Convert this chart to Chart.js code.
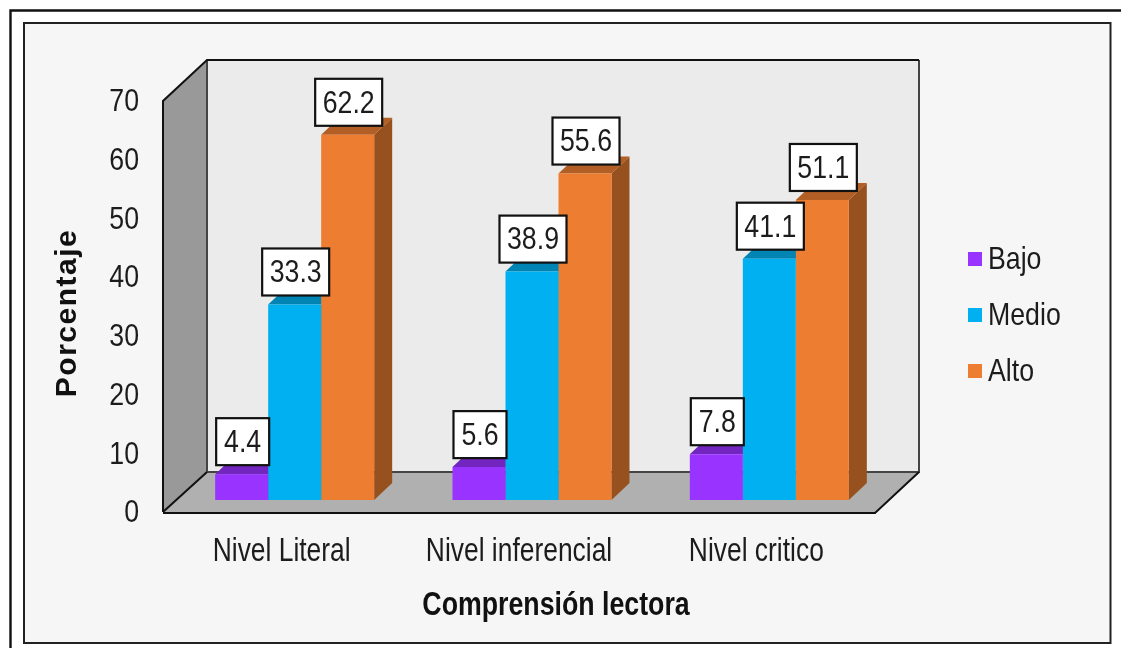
<!DOCTYPE html>
<html><head><meta charset="utf-8">
<style>html,body{margin:0;padding:0;background:#fff}#wrap{position:absolute;left:0;top:0;width:1121px;height:648px}canvas{filter:blur(0.45px)}</style>
<script src="https://cdn.jsdelivr.net/npm/chart.js@4/dist/chart.umd.min.js"></script>
</head><body><div id="wrap"><canvas id="c" width="1121" height="648"></canvas></div>
<script>
const categories = ['Nivel Literal', 'Nivel inferencial', 'Nivel critico'];
const bajo = [4.4, 5.6, 7.8];
const medio = [33.3, 38.9, 41.1];
const alto = [62.2, 55.6, 51.1];
const seriesNames = ['Bajo', 'Medio', 'Alto'];
const frontColors = ['#9933ff', '#00b0f0', '#ed7d31'];
const topColors = ['#7326bf', '#0084b4', '#b25e25'];
const sideColors = ['#5c1f99', '#006f97', '#97511f'];
const yTicks = [0, 10, 20, 30, 40, 50, 60, 70];
const xTitle = 'Comprensión lectora';
const yTitle = 'Porcentaje';

const sans = '"Liberation Sans", Arial, sans-serif';
const ink = '#1c1c1c';
const wallDX = 44, wallDY = 40;      // depth of the back wall
const shiftX = 13, shiftY = -12;     // bars stand inside the floor
const barDX = 18, barDY = 17;        // depth of each bar
const digitSqueeze = 0.835;

// The reference text is a horizontally condensed Arial: draw every string squeezed.
function squeezeFor(font) {
  if (font.includes('bold')) return font.includes('33px') ? 0.81 : 1;
  if (font.includes('33px')) return 0.80;
  return digitSqueeze;
}
const canvas = document.getElementById('c');
const rawCtx = canvas.getContext('2d');
const rawFill = rawCtx.fillText.bind(rawCtx);
rawCtx.fillText = function (t, x, y, m) {
  const k = squeezeFor(rawCtx.font);
  const dx = seriesNames.includes(t) ? -10 : 0;   // tighter legend gap
  const dy = rawCtx.textBaseline === 'middle' ? 1.5 : 0;
  rawCtx.save();
  rawCtx.translate(x + dx, y + dy);
  rawCtx.scale(k, 1);
  rawFill(t, 0, 0);
  rawCtx.restore();
};

function poly(ctx, pts, fill, stroke, lw) {
  ctx.beginPath();
  pts.forEach((p, i) => i ? ctx.lineTo(p[0], p[1]) : ctx.moveTo(p[0], p[1]));
  ctx.closePath();
  if (fill) { ctx.fillStyle = fill; ctx.fill(); }
  if (stroke) { ctx.strokeStyle = stroke; ctx.lineWidth = lw; ctx.stroke(); }
}

const scene = {
  id: 'scene',
  beforeLayout(chart) {
    const l = chart.legend;
    if (l && !l._fitWrapped) {
      const f = l.fit;
      l.fit = function () { f.call(this); this.width = 246; };
      l._fitWrapped = true;
    }
  },
  afterLayout(chart) {
    const l = chart.legend;
    l.left = 944; l.right = 1121; l.top = 219; l.bottom = 640;
  },
  beforeDraw(chart) {
    const ctx = chart.ctx;
    const { left: L, right: R, top: T, bottom: B } = chart.chartArea;
    ctx.save();
    ctx.fillStyle = '#fff';
    ctx.fillRect(0, 0, 1121, 648);
    ctx.strokeStyle = '#111'; ctx.lineWidth = 2.4;
    ctx.beginPath(); ctx.moveTo(1121, 10.5); ctx.lineTo(10.5, 10.5); ctx.lineTo(10.5, 648); ctx.stroke();
    ctx.fillStyle = '#f6f6f6'; ctx.fillRect(24, 23, 1086, 620);
    ctx.strokeStyle = '#222'; ctx.lineWidth = 2; ctx.strokeRect(24, 23, 1086.5, 620);
    poly(ctx, [[L + wallDX, B - wallDY], [L + wallDX, T - wallDY - 1], [R + wallDX, T - wallDY - 1], [R + wallDX, B - wallDY]], '#ebebeb');
    poly(ctx, [[L, B], [L, T], [L + wallDX, T - wallDY - 1], [L + wallDX, B - wallDY]], '#999999');
    poly(ctx, [[L, B], [L + wallDX, B - wallDY], [R + wallDX, B - wallDY], [R, B]], '#b0b0b0');
    ctx.strokeStyle = '#444'; ctx.lineWidth = 2;
    ctx.beginPath();
    ctx.moveTo(L + wallDX, T - wallDY - 1); ctx.lineTo(L + wallDX, B - wallDY); ctx.lineTo(R + wallDX, B - wallDY); ctx.lineTo(R + wallDX, T - wallDY - 1);
    ctx.moveTo(L, T); ctx.lineTo(L, B);
    ctx.stroke();
    ctx.strokeStyle = '#111'; ctx.lineWidth = 2;
    ctx.beginPath();
    ctx.moveTo(L, B); ctx.lineTo(L, T); ctx.lineTo(L + wallDX, T - wallDY - 1); ctx.lineTo(R + wallDX, T - wallDY - 1);
    ctx.moveTo(L, B); ctx.lineTo(L + wallDX, B - wallDY);
    ctx.moveTo(L, B + 1); ctx.lineTo(R, B + 1); ctx.lineTo(R + wallDX, B - wallDY);
    ctx.stroke();
    ctx.restore();
  },
  beforeDatasetsDraw(chart) {
    const ctx = chart.ctx;
    ctx.save();
    ctx.translate(shiftX, shiftY);
    chart.data.datasets.forEach((ds, i) => {
      chart.getDatasetMeta(i).data.forEach(bar => {
        const w = bar.width / 2, x0 = bar.x - w, x1 = bar.x + w, y = bar.y, b = bar.base;
        poly(ctx, [[x1, y], [x1 + barDX, y - barDY], [x1 + barDX, b - barDY], [x1, b]], sideColors[i]);
        poly(ctx, [[x0, y], [x0 + barDX, y - barDY], [x1 + barDX, y - barDY], [x1, y]], topColors[i]);
      });
    });
  },
  afterDatasetsDraw(chart) {
    const ctx = chart.ctx;
    ctx.restore();
    ctx.save();
    ctx.font = '32px ' + sans;
    ctx.textAlign = 'center'; ctx.textBaseline = 'middle';
    chart.data.datasets.forEach((ds, i) => {
      chart.getDatasetMeta(i).data.forEach((bar, j) => {
        const label = ds.data[j].toFixed(1);
        const tw = ctx.measureText(label).width * digitSqueeze;
        const w = Math.max(53, tw + 15), h = 47;
        const cx = bar.x + shiftX + 1, by = bar.y + shiftY - 9;
        ctx.fillStyle = '#fff';
        ctx.fillRect(cx - w / 2, by - h, w, h);
        ctx.strokeStyle = '#111'; ctx.lineWidth = 2.2;
        ctx.strokeRect(cx - w / 2, by - h, w, h);
        ctx.fillStyle = ink;
        ctx.fillText(label, cx, by - h / 2);
      });
    });
    ctx.restore();
  },
  afterDraw(chart) {
    const ctx = chart.ctx;
    ctx.save();
    ctx.fillStyle = '#111';
    ctx.textAlign = 'center'; ctx.textBaseline = 'middle';
    ctx.font = 'bold 33px ' + sans;
    ctx.fillText(xTitle, 556, 604);
    ctx.translate(66, 313); ctx.rotate(-Math.PI / 2);
    ctx.font = 'bold 30px ' + sans;
    ctx.letterSpacing = '1.5px';
    ctx.fillText(yTitle, 0, 0);
    ctx.restore();
  }
};

new Chart(canvas, {
  type: 'bar',
  data: {
    labels: categories,
    datasets: [
      { label: seriesNames[0], data: bajo, backgroundColor: frontColors[0] },
      { label: seriesNames[1], data: medio, backgroundColor: frontColors[1] },
      { label: seriesNames[2], data: alto, backgroundColor: frontColors[2] }
    ]
  },
  options: {
    responsive: false, animation: false,
    devicePixelRatio: 1,
    layout: { padding: { top: 101, left: 0, right: 0, bottom: 0 } },
    datasets: { bar: { categoryPercentage: 0.67, barPercentage: 1, borderWidth: 0 } },
    plugins: {
      tooltip: { enabled: false },
      legend: {
        position: 'right', align: 'start',
        labels: { boxWidth: 14, boxHeight: 14, padding: 24, color: ink, font: { family: sans, size: 32 } }
      }
    },
    scales: {
      x: {
        grid: { display: false, drawTicks: false }, border: { display: false },
        ticks: { padding: 19, color: ink, font: { family: sans, size: 33 }, maxRotation: 0, autoSkip: false },
        afterFit(s) { s.height = 136; }
      },
      y: {
        min: 0, max: 70,
        afterBuildTicks(s) { s.ticks = yTicks.map(v => ({ value: v })); },
        grid: { display: false, drawTicks: false }, border: { display: false },
        ticks: { padding: 24, color: ink, font: { family: sans, size: 32 } },
        afterFit(s) { s.width = 163; }
      }
    }
  },
  plugins: [scene]
});
</script></body></html>
